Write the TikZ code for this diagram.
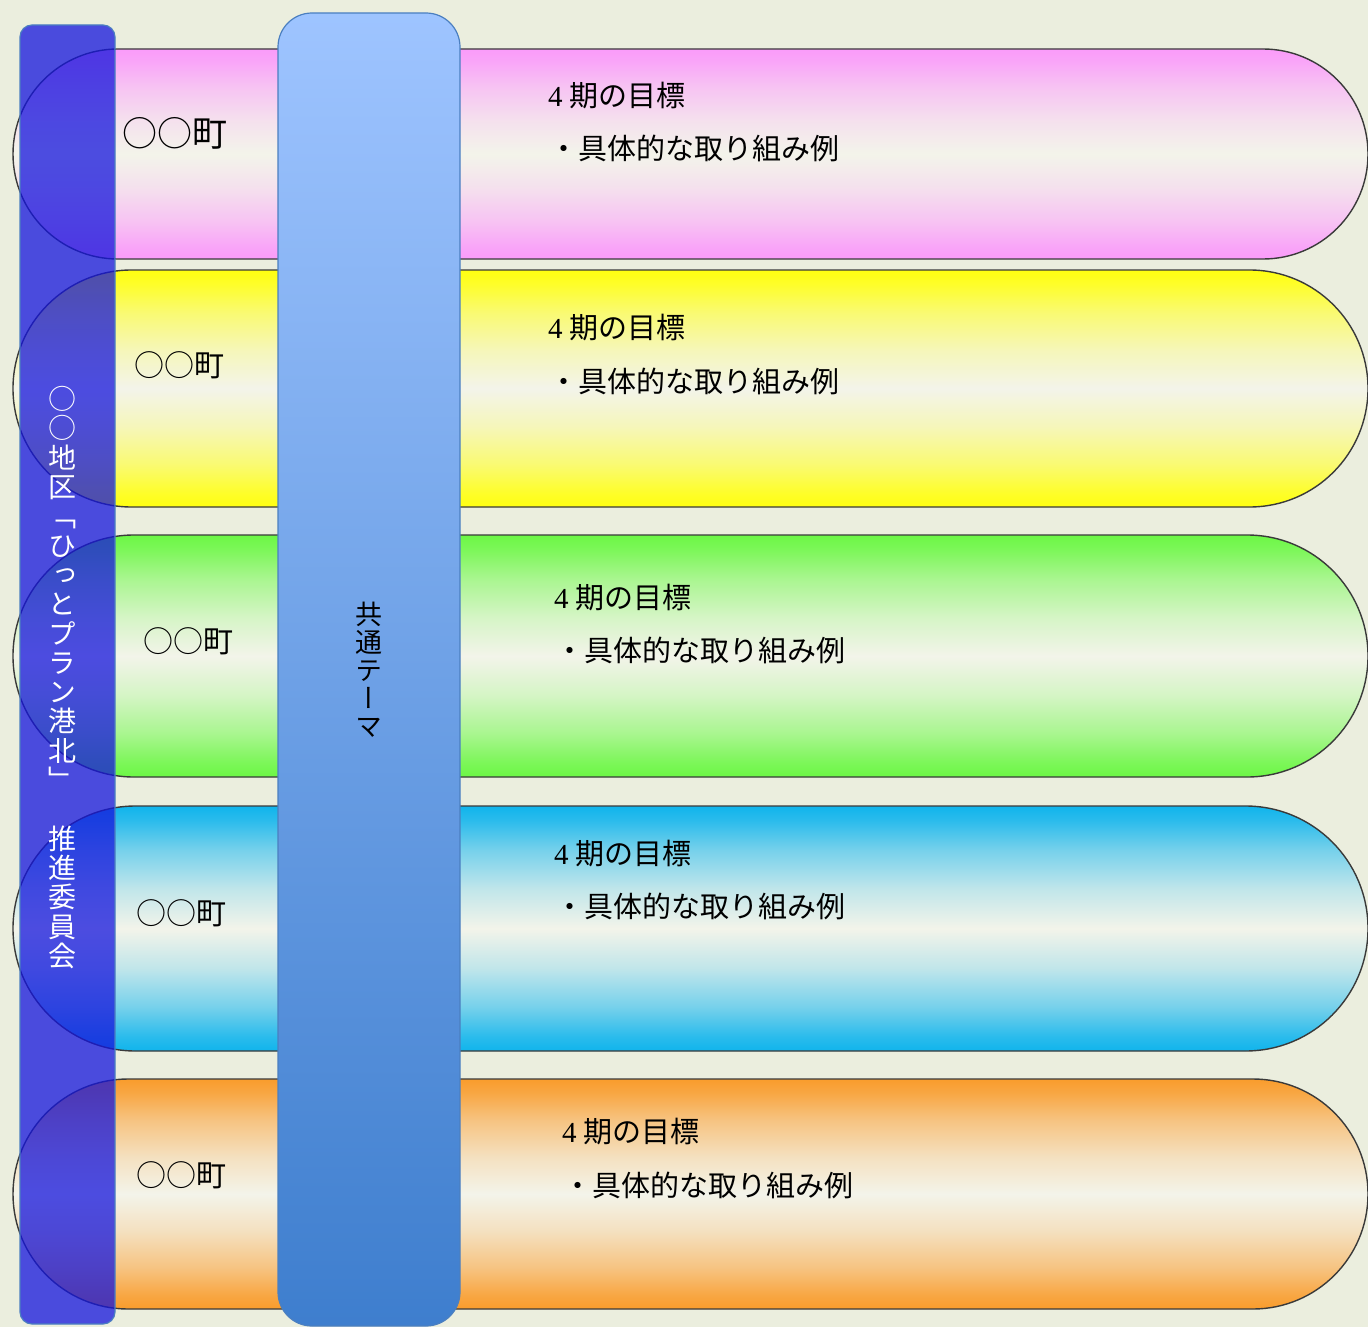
\documentclass[tikz,border=0pt]{standalone}
\usepackage{fontspec}
\usepackage{graphicx}
\usetikzlibrary{positioning, shapes.misc}
\setmainfont{Liberation Serif}
\newfontfamily\jp{Noto Sans CJK JP}
\newfontfamily\jpv[Vertical=Alternates]{Noto Sans CJK JP}

\definecolor{bgcol}{HTML}{EBEEDE}
\definecolor{bandmid}{HTML}{F3F4EA}
\definecolor{bandline}{HTML}{3A3A3A}
\definecolor{pinkc}{HTML}{FA9BFA}
\definecolor{yellowc}{HTML}{FFFF10}
\definecolor{greenc}{HTML}{6CF745}
\definecolor{cyanc}{HTML}{10B4EC}
\definecolor{orangec}{HTML}{F99C2C}
\definecolor{coltop}{HTML}{9EC4FF}
\definecolor{colbottom}{HTML}{3E7ECE}
\definecolor{colline}{HTML}{4B7FC0}
\definecolor{committeec}{HTML}{1515DD}

% band shading: strong at the edges, pale in the middle
\newcommand\declareband[2]{%
  \pgfdeclareverticalshading{#1}{100bp}{color(0bp)=(#2); color(25bp)=(#2);
    color(28bp)=(#2!88!bandmid); color(34bp)=(#2!55!bandmid);
    color(42bp)=(#2!22!bandmid); color(50bp)=(bandmid);
    color(58bp)=(#2!22!bandmid); color(66bp)=(#2!55!bandmid);
    color(72bp)=(#2!88!bandmid); color(75bp)=(#2); color(100bp)=(#2)}}
\declareband{pinkband}{pinkc}
\declareband{yellowband}{yellowc}
\declareband{greenband}{greenc}
\declareband{cyanband}{cyanc}
\declareband{orangeband}{orangec}

\tikzset{
  band/.style={
    draw=bandline,
    line width=1.4pt,
    rounded rectangle,
    minimum width=1355pt,
    inner sep=0pt,
    shade
  },
  townlabel/.style={
    anchor=west,
    inner sep=0pt,
    font=\jp\fontsize{30}{36}\selectfont
  },
  goaltext/.style={
    anchor=west,
    inner sep=0pt,
    font=\fontsize{29}{35}\selectfont
  },
  committee/.style={
    draw=colline,
    line width=1.2pt,
    rectangle,
    rounded corners=12pt,
    fill=committeec,
    fill opacity=0.75,
    minimum width=95pt,
    minimum height=1299pt
  },
  vtext/.style={
    align=center,
    inner sep=0pt,
    font=\jpv\fontsize{28}{29.3}\selectfont
  },
  themecol/.style={
    draw=colline,
    line width=1.2pt,
    rectangle,
    rounded corners=34pt,
    top color=coltop,
    bottom color=colbottom,
    minimum width=182pt,
    minimum height=1313pt,
    align=center,
    font=\jpv\fontsize{27}{28}\selectfont
  }
}

\begin{document}
\begin{tikzpicture}[x=1pt, y=-1pt]
    \path[fill=bgcol, use as bounding box] (0,0) rectangle (1368,1327);

    % town bands
    \node[band, shading=pinkband, minimum height=210pt] (b1) at (690.5,154) {};
    \node[band, shading=yellowband, minimum height=237pt] (b2) at (690.5,388.5) {};
    \node[band, shading=greenband, minimum height=242pt] (b3) at (690.5,656) {};
    \node[band, shading=cyanband, minimum height=245pt] (b4) at (690.5,928.5) {};
    \node[band, shading=orangeband, minimum height=230pt] (b5) at (690.5,1194) {};

    % committee bar over the band ends
    \node[committee] (comm) at (67.5,674.5) {};
    \node[vtext, text=white] (commtext) at (62,677.5)
      {○\\○\\地\\区\\「\\ひ\\っ\\と\\プ\\ラ\\ン\\港\\北\\」\\　\\推\\進\\委\\員\\会};

    % common theme column
    \node[themecol] (theme) at (369,669.5) {共\\通\\テ\\ー\\マ};

    \node[townlabel, font=\jp\fontsize{35}{40}\selectfont] (town1) at (122,133) {○○町};
    \node[townlabel] (town2) at (134,365) {○○町};
    \node[townlabel] (town3) at (143,641) {○○町};
    \node[townlabel] (town4) at (136,913) {○○町};
    \node[townlabel] (town5) at (136,1175) {○○町};

    \node[goaltext] (goal1) at (548,96) {4 {\jp 期の目標}};
    \node[goaltext] (ex1) at (549,148) {\jp ・具体的な取り組み例};
    \node[goaltext] (goal2) at (548,328) {4 {\jp 期の目標}};
    \node[goaltext] (ex2) at (549,381) {\jp ・具体的な取り組み例};
    \node[goaltext] (goal3) at (554,598) {4 {\jp 期の目標}};
    \node[goaltext] (ex3) at (555,650) {\jp ・具体的な取り組み例};
    \node[goaltext] (goal4) at (554,854) {4 {\jp 期の目標}};
    \node[goaltext] (ex4) at (555,906) {\jp ・具体的な取り組み例};
    \node[goaltext] (goal5) at (562,1132) {4 {\jp 期の目標}};
    \node[goaltext] (ex5) at (563,1185) {\jp ・具体的な取り組み例};
\end{tikzpicture}
\end{document}
